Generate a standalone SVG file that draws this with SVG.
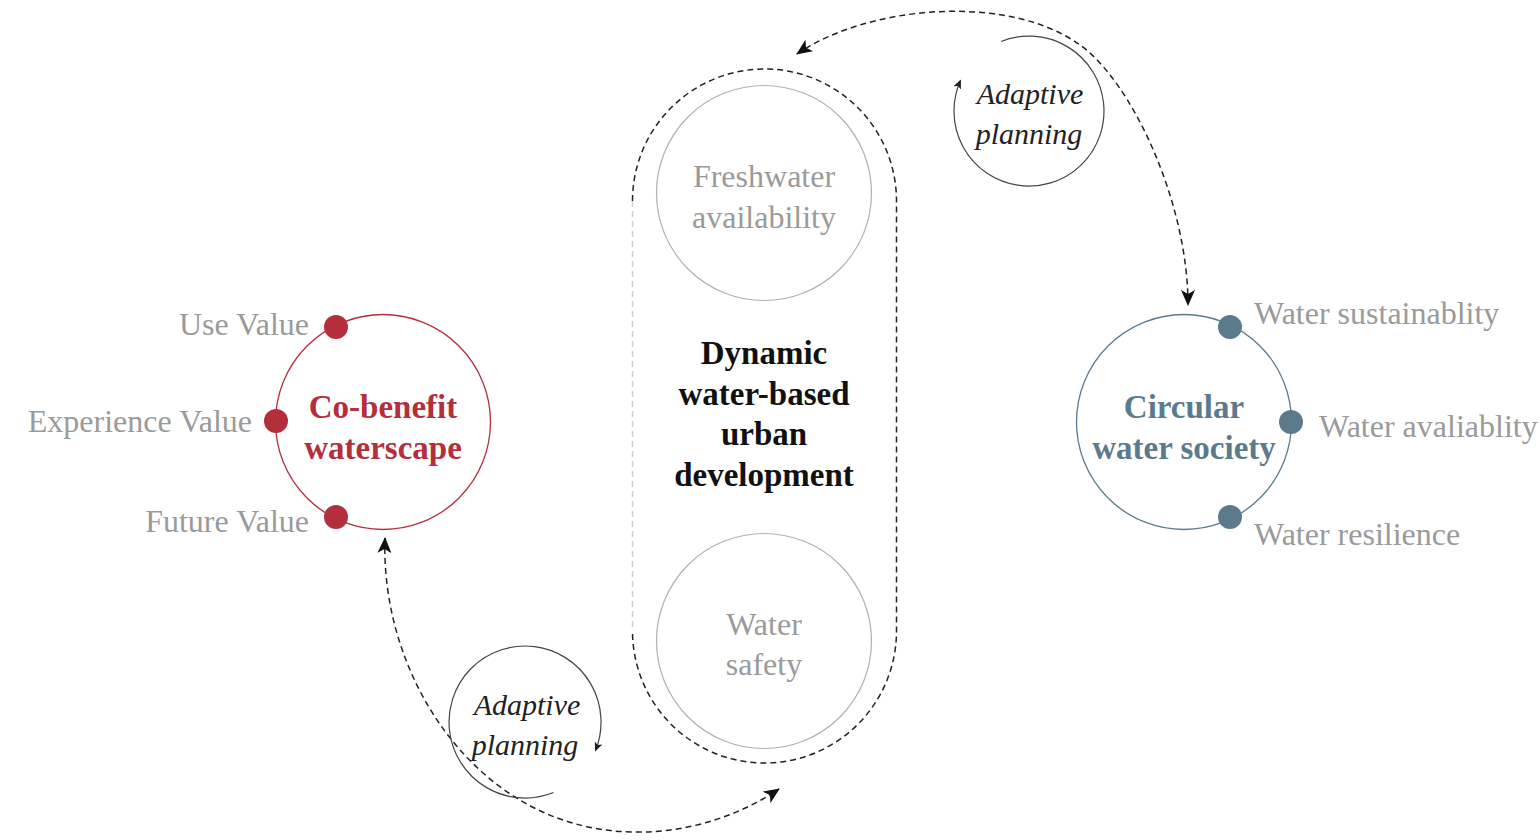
<svg xmlns="http://www.w3.org/2000/svg" width="1540" height="840" viewBox="0 0 1540 840">
<defs>
<style>
text{font-family:"Liberation Serif","DejaVu Serif",serif;}
.lbl{font-size:32px;fill:#9a9a9a;}
.inner{font-size:32px;fill:#9a9a9a;text-anchor:middle;}
.title{font-size:33px;font-weight:bold;text-anchor:middle;}
.ital{font-size:30px;font-style:italic;fill:#222;text-anchor:middle;}
.dash{fill:none;stroke:#222;stroke-width:1.5;stroke-dasharray:6 4;}
.loop{fill:none;stroke:#444;stroke-width:1.2;}
</style>
<marker id="big" markerUnits="userSpaceOnUse" markerWidth="16" markerHeight="14" viewBox="0 0 16 14" refX="15" refY="7" orient="auto-start-reverse">
<path d="M0,0 L16,7 L0,14 L4,7 z" fill="#111"/>
</marker>
<marker id="small" markerUnits="userSpaceOnUse" markerWidth="9" markerHeight="8" viewBox="0 0 9 8" refX="8" refY="4" orient="auto">
<path d="M0,0 L9,4 L0,8 L2,4 z" fill="#222"/>
</marker>
</defs>
<rect width="1540" height="840" fill="#fff"/>

<g id="connectors">
<path class="dash" d="M797,54 C870,4 1010,-6 1080,45 C1130,80 1188,200 1188,305" marker-start="url(#big)" marker-end="url(#big)"/>
<path class="dash" d="M385,538 C380,680 480,830 633,832 C690,833 740,815 779,789" marker-start="url(#big)" marker-end="url(#big)"/>
</g>

<g id="stadium">
<path class="dash" d="M632.5,201 A132,132 0 0 1 896.5,201 L896.5,631 A132,132 0 0 1 632.5,631"/>
<line x1="632.5" y1="201" x2="632.5" y2="631" stroke="#cfcfcf" stroke-width="1.5" stroke-dasharray="6 4"/>
</g>

<g id="freshwater">
<circle cx="764" cy="193" r="107.5" fill="none" stroke="#b0b0b0" stroke-width="1.2"/>
<text class="inner" x="764" y="187">Freshwater</text>
<text class="inner" x="764" y="228">availability</text>
</g>

<g id="watersafety">
<circle cx="764" cy="641" r="107.5" fill="none" stroke="#b0b0b0" stroke-width="1.2"/>
<text class="inner" x="764" y="635">Water</text>
<text class="inner" x="764" y="675">safety</text>
</g>

<g id="dynamic">
<text class="title" x="764" y="364" fill="#111">Dynamic</text>
<text class="title" x="764" y="405" fill="#111">water-based</text>
<text class="title" x="764" y="445" fill="#111">urban</text>
<text class="title" x="764" y="486" fill="#111">development</text>
</g>

<g id="cobenefit">
<circle cx="383" cy="422" r="107.5" fill="none" stroke="#b52e3c" stroke-width="1.3"/>
<circle cx="336" cy="327" r="12" fill="#b52e3c"/>
<circle cx="276" cy="421" r="12" fill="#b52e3c"/>
<circle cx="336" cy="517" r="12" fill="#b52e3c"/>
<text class="title" x="383" y="418" fill="#b52e3c">Co-benefit</text>
<text class="title" x="383" y="459" fill="#b52e3c">waterscape</text>
<text class="lbl" x="309" y="335" text-anchor="end">Use Value</text>
<text class="lbl" x="252" y="432" text-anchor="end">Experience Value</text>
<text class="lbl" x="309" y="532" text-anchor="end">Future Value</text>
</g>

<g id="circular">
<circle cx="1184" cy="422" r="107.5" fill="none" stroke="#5b7b8d" stroke-width="1.3"/>
<circle cx="1230" cy="327" r="12" fill="#5b7b8d"/>
<circle cx="1291" cy="422" r="12" fill="#5b7b8d"/>
<circle cx="1230" cy="517" r="12" fill="#5b7b8d"/>
<text class="title" x="1184" y="418" fill="#5b7b8d">Circular</text>
<text class="title" x="1184" y="459" fill="#5b7b8d">water society</text>
<text class="lbl" x="1254" y="324">Water sustainablity</text>
<text class="lbl" x="1319" y="437">Water avaliablity</text>
<text class="lbl" x="1254" y="545">Water resilience</text>
</g>

<g id="adaptive-top">
<path class="loop" d="M1001,41.5 A75,75 0 1 1 960.5,80.5" marker-end="url(#small)"/>
<text class="ital" x="1030" y="104">Adaptive</text>
<text class="ital" x="1029" y="144">planning</text>
</g>

<g id="adaptive-bottom">
<path class="loop" d="M553.5,792.5 A76,76 0 1 1 595.5,750.5" marker-end="url(#small)"/>
<text class="ital" x="527" y="715">Adaptive</text>
<text class="ital" x="525" y="755">planning</text>
</g>
</svg>
